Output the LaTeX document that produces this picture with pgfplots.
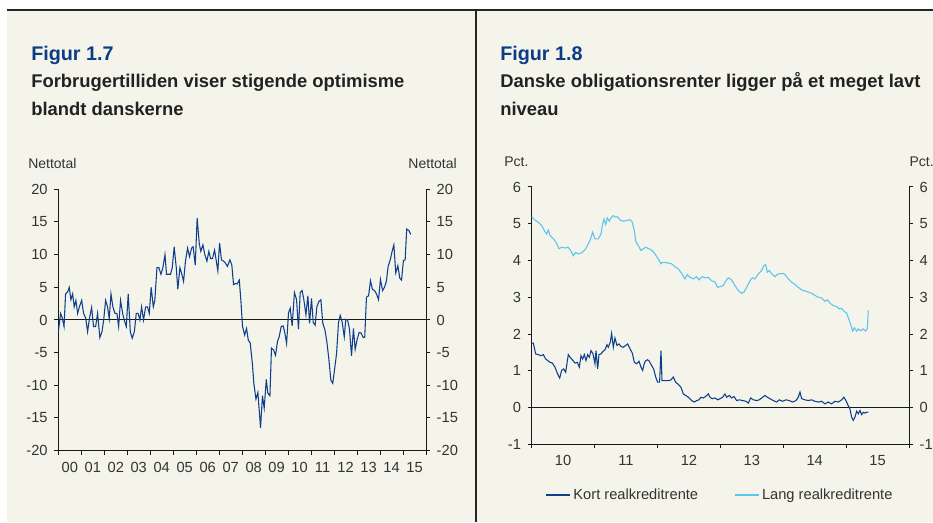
\documentclass[border=0pt]{standalone}
\usepackage{fontspec}
\setmainfont{Liberation Sans}
\usepackage{pgfplots}
\pgfplotsset{compat=1.18}
\definecolor{bg}{HTML}{F4F4EA}
\definecolor{dblue}{HTML}{0F3F8C}
\definecolor{lblue}{HTML}{5CC4EE}
\definecolor{tblue}{HTML}{0B3C85}
\definecolor{txt}{HTML}{333333}
\definecolor{ttl}{HTML}{222222}
\pgfplotsset{mystyle/.style={scale only axis,
  axis line style={black!90, line width=0.75pt},
  tick style={black!90, line width=0.75pt},
  tick align=outside, major tick length=3pt, minor tick length=3pt,
  major x tick style={draw=none},
  ticklabel style={font=\fontsize{11}{13}\selectfont, text=txt},
  xticklabel style={yshift=-2pt},
  /pgf/number format/assume math mode=true}}
\begin{document}
\begin{tikzpicture}
\useasboundingbox (0,0) rectangle (699.75pt,-391.5pt);
\fill[white] (0,0) rectangle (699.75pt,-391.5pt);
\fill[bg] (5.25pt,-7.5pt) rectangle (699.75pt,-391.5pt);
\draw[line width=0.9pt, black!85] (5.25pt,-7.5pt) -- (699.75pt,-7.5pt);
\draw[line width=0.9pt, black!85] (357pt,-7.5pt) -- (357pt,-391.5pt);
% titles
\node[anchor=base west, inner sep=0, font=\fontsize{14.8}{17}\selectfont\bfseries, text=tblue] at (23.25pt,-45.4pt) {Figur 1.7};
\node[anchor=base west, inner sep=0, font=\fontsize{13.8}{17}\selectfont\bfseries, text=ttl] at (23.25pt,-65.6pt) {Forbrugertilliden viser stigende optimisme};
\node[anchor=base west, inner sep=0, font=\fontsize{13.8}{17}\selectfont\bfseries, text=ttl] at (23.25pt,-86.25pt) {blandt danskerne};
\node[anchor=base west, inner sep=0, font=\fontsize{14.8}{17}\selectfont\bfseries, text=tblue] at (375pt,-45.4pt) {Figur 1.8};
\node[anchor=base west, inner sep=0, font=\fontsize{13.8}{17}\selectfont\bfseries, text=ttl] at (375pt,-65.6pt) {Danske obligationsrenter ligger på et meget lavt};
\node[anchor=base west, inner sep=0, font=\fontsize{13.8}{17}\selectfont\bfseries, text=ttl] at (375pt,-86.25pt) {niveau};
% units
\node[anchor=base west, inner sep=0, font=\fontsize{10.5}{12}\selectfont, text=txt] at (21pt,-126pt) {Nettotal};
\node[anchor=base east, inner sep=0, font=\fontsize{10.5}{12}\selectfont, text=txt] at (342.75pt,-126pt) {Nettotal};
\node[anchor=base west, inner sep=0, font=\fontsize{10.5}{12}\selectfont, text=txt] at (378pt,-124.5pt) {Pct.};
\node[anchor=base west, inner sep=0, font=\fontsize{10.5}{12}\selectfont, text=txt] at (682pt,-124.5pt) {Pct.};

% ---------- left panel ----------
\begin{axis}[mystyle, at={(43.725pt,-338.0pt)}, anchor=south west,
  width=275.8pt, height=196.05pt,
  xmin=0, xmax=192, ymin=-20, ymax=20,
  axis x line*=bottom, axis y line*=left,
  yticklabel style={xshift=-1.5pt},
  ytick={-20,-15,...,20},
  xtick={6,18,...,186},
  xticklabels={00,01,02,03,04,05,06,07,08,09,10,11,12,13,14,15},
  minor xtick={0,12,...,192}]
\addplot[black!90, line width=0.75pt, forget plot] coordinates {(0,0) (192,0)};
\addplot[dblue, line width=0.8pt] coordinates {
(0,-1.9)(1.2,1.0)(2.1,0.3)(3.0,-1.0)(3.8,4.0)(4.9,4.3)(5.7,5.0)(6.6,3.1)(7.5,4.0)(8.3,2.0)(9.2,3.0)(10.1,1.0)(11.0,2.0)(12.2,3.0)(13.2,1.0)(14.3,0.3)(15.3,-1.8)(16.3,0.3)(17.4,1.9)(18.4,-1.0)(19.5,-1.0)(20.5,1.0)(21.7,-2.7)(22.8,-1.8)(23.7,0)(24.7,3.0)(25.7,2.0)(26.6,0.2)(27.5,4.0)(28.5,2.0)(29.6,1.0)(30.6,1.0)(31.5,-1.0)(32.5,3.0)(33.6,1.0)(34.4,0)(35.5,-1.0)(36.5,4.0)(37.6,-1.8)(38.6,-2.8)(39.7,-1.8)(40.7,1.0)(41.7,1.0)(42.6,0)(43.5,2.0)(44.5,0)(45.6,2.0)(46.6,2.0)(47.5,1.0)(48.5,5.0)(49.6,2.0)(50.4,3.0)(51.5,8.0)(52.5,8.0)(53.6,7.0)(54.6,8.0)(55.7,10.0)(56.5,7.0)(57.6,7.0)(58.6,7.0)(59.5,8.0)(60.5,11.2)(61.6,8.0)(62.4,4.7)(63.5,8.0)(64.5,7.0)(65.4,5.9)(66.4,9.0)(67.5,11.0)(68.5,9.7)(69.6,11.0)(70.4,11.2)(71.5,8.4)(72.5,15.6)(73.6,11.7)(74.4,10.5)(75.5,11.5)(76.5,10.0)(77.6,9.0)(78.6,10.5)(79.5,9.4)(80.5,9.4)(81.6,10.7)(83.3,7.5)(84.2,11.8)(85.2,9.2)(86.3,9.0)(87.3,8.7)(88.3,8.2)
(89.6,9.2)(90.6,8.4)(91.5,5.4)(92.6,5.6)(93.4,5.5)(94.5,6.1)(95.3,3.1)(96.2,-1.0)(97.3,-2.3)(98.3,-1.3)(99.2,-3.1)(100.2,-3.5)(101.3,-6.6)(102.1,-9.7)(103.2,-12.1)(104.2,-11.1)(105.6,-16.5)(106.6,-11.6)(107.5,-13.5)(108.6,-9.1)(109.4,-11.2)(110.5,-11.6)(111.3,-4.3)(112.4,-4.6)(113.4,-5.4)(114.5,-3.2)(115.3,-2.6)(116.4,-1.0)(117.4,-0.9)(118.3,-2.0)(119.2,-3.6)(120.2,1.1)(121.1,1.8)(122.1,-0.9)(123.3,4.2)(124.4,3.1)(125.4,-1.4)(126.3,4.2)(127.3,4.5)(128.2,3.1)(129.3,0.8)(130.3,3.7)(131.2,-0.5)(132.2,3.3)(133.1,-0.4)(134.1,-0.8)(135.0,2.0)(136.0,2.8)(137.1,3.1)(138.1,-0.5)(139.2,-1.5)(140.2,-3.3)(141.3,-6.1)(142.3,-9.2)(143.3,-9.7)(144.2,-7.7)(145.3,-5.1)(146.3,-0.4)(147.2,0.7)(148.2,-0.3)(149.3,-2.6)(150.1,0.1)(151.0,0)(152.0,-1.3)(153.1,-5.5)(154.1,-1.3)(155.0,-4.5)(156.0,-3.0)(157.1,-1.9)(158.1,-2.0)(159.2,-2.7)(160.0,-2.6)(160.9,3.5)(162.0,3.7)(163.0,6.0)(164.0,4.7)(165.1,4.5)(166.1,4.0)(167.2,3.1)(168.2,6.2)(169.3,4.5)(170.3,5.0)(171.3,5.9)(172.2,8.2)(173.3,9.2)(174.3,10.5)(175.2,11.5)(176.2,7.2)(177.3,8.3)(178.3,6.4)(179.2,6.1)(180.2,9.1)(181.1,9.2)(181.9,13.9)(183.0,13.7)(184.0,13.1)
};
\end{axis}
\begin{axis}[mystyle, at={(43.725pt,-338.0pt)}, anchor=south west,
  width=275.8pt, height=196.05pt,
  xmin=0, xmax=192, ymin=-20, ymax=20,
  axis x line=none, axis y line*=right,
  yticklabel style={xshift=1.5pt},
  ytick={-20,-15,...,20}, yticklabel pos=right]
\end{axis}

% ---------- right panel ----------
\begin{axis}[mystyle, at={(398.775pt,-333.225pt)}, anchor=south west,
  width=283.0pt, height=193.0pt,
  xmin=2010, xmax=2016, ymin=-1, ymax=6,
  axis x line*=bottom, axis y line*=left,
  yticklabel style={xshift=-1.5pt},
  ytick={-1,0,...,6},
  xtick={2010.5,2011.5,2012.5,2013.5,2014.5,2015.5},
  xticklabels={10,11,12,13,14,15},
  minor xtick={2010,2011,2012,2013,2014,2015,2016},
  legend columns=2,
  legend style={draw=none, fill=none, font=\fontsize{11}{13}\selectfont, text=txt,
    at={(0.5,-0.197)}, anchor=center,
    /tikz/every even column/.append style={column sep=25pt}},
  legend image code/.code={\draw[#1, line width=0.9pt] (0pt,0pt) -- (18pt,0pt);}]
\addplot[black!90, line width=0.75pt, forget plot] coordinates {(2010,0) (2016,0)};
\addplot[dblue, line width=0.8pt] coordinates {
(2010.000,1.75)(2010.026,1.75)(2010.063,1.46)(2010.105,1.44)(2010.148,1.41)(2010.185,1.44)(2010.222,1.32)(2010.254,1.28)(2010.291,1.23)(2010.328,1.21)(2010.370,1.10)(2010.408,0.93)(2010.445,0.80)(2010.476,1.01)(2010.508,1.05)(2010.540,0.96)(2010.582,1.44)(2010.609,1.37)(2010.646,1.30)(2010.688,1.21)(2010.725,1.23)(2010.757,1.10)(2010.784,1.41)(2010.810,1.32)(2010.837,1.44)(2010.863,1.28)(2010.890,1.44)(2010.916,1.37)(2010.943,1.55)(2010.975,1.46)(2011.006,1.19)(2011.022,1.55)(2011.049,1.05)(2011.070,1.44)(2011.102,1.46)(2011.134,1.53)(2011.165,1.57)(2011.197,1.71)(2011.218,1.64)(2011.250,1.78)(2011.271,2.02)(2011.298,1.64)(2011.324,1.89)(2011.356,1.69)(2011.388,1.73)(2011.420,1.66)(2011.457,1.64)(2011.494,1.69)(2011.526,1.73)(2011.563,1.60)(2011.600,1.48)(2011.632,1.23)(2011.669,1.19)(2011.706,1.26)(2011.738,1.10)(2011.764,1.01)(2011.791,1.21)(2011.817,1.28)(2011.844,1.30)(2011.870,1.26)(2011.907,1.14)(2011.939,1.05)(2011.971,0.83)(2012.003,0.69)(2012.034,0.69)(2012.056,1.55)(2012.072,0.73)(2012.109,0.73)(2012.161,0.73)(2012.214,0.75)(2012.252,0.83)(2012.289,0.69)(2012.331,0.63)(2012.374,0.55)(2012.411,0.37)(2012.448,0.33)(2012.490,0.28)(2012.543,0.19)(2012.586,0.15)(2012.623,0.19)(2012.660,0.21)(2012.692,0.28)(2012.729,0.26)(2012.766,0.30)(2012.808,0.37)(2012.835,0.28)(2012.872,0.24)(2012.914,0.26)(2012.957,0.21)
(2012.994,0.24)(2013.036,0.28)(2013.073,0.37)(2013.100,0.28)(2013.142,0.33)(2013.179,0.26)(2013.217,0.30)(2013.259,0.19)(2013.301,0.21)(2013.354,0.19)(2013.407,0.17)(2013.444,0.12)(2013.482,0.26)(2013.524,0.21)(2013.577,0.19)(2013.619,0.21)(2013.672,0.28)(2013.709,0.33)(2013.747,0.28)(2013.789,0.24)(2013.842,0.19)(2013.895,0.15)(2013.937,0.21)(2013.990,0.17)(2014.043,0.21)(2014.096,0.19)(2014.149,0.15)(2014.202,0.19)(2014.239,0.28)(2014.266,0.42)(2014.292,0.24)(2014.345,0.21)(2014.398,0.19)(2014.451,0.21)(2014.504,0.17)(2014.557,0.15)(2014.610,0.17)(2014.663,0.10)(2014.716,0.15)(2014.769,0.10)(2014.822,0.17)(2014.875,0.15)(2014.928,0.21)(2014.965,0.28)(2014.997,0.19)(2015.034,0.05)(2015.061,-0.04)(2015.087,-0.26)(2015.114,-0.35)(2015.140,-0.26)(2015.167,-0.10)(2015.193,-0.17)(2015.220,-0.08)(2015.246,-0.19)(2015.273,-0.13)(2015.299,-0.15)(2015.326,-0.13)(2015.352,-0.12)
};
\addlegendentry{Kort realkreditrente}
\addplot[lblue, line width=0.8pt] coordinates {
(2010.000,5.19)(2010.052,5.10)(2010.105,5.04)(2010.158,4.95)(2010.196,4.83)(2010.238,4.72)(2010.264,4.83)(2010.291,4.68)(2010.344,4.59)(2010.397,4.47)(2010.434,4.32)(2010.476,4.36)(2010.529,4.34)(2010.582,4.36)(2010.619,4.27)(2010.662,4.13)(2010.699,4.22)(2010.741,4.18)(2010.794,4.21)(2010.847,4.29)(2010.900,4.45)(2010.937,4.59)(2010.969,4.77)(2011.006,4.59)(2011.059,4.59)(2011.102,4.72)(2011.128,5.00)(2011.149,5.13)(2011.176,4.98)(2011.202,5.16)(2011.234,5.07)(2011.260,5.16)(2011.298,5.22)(2011.335,5.18)(2011.367,5.19)(2011.404,5.10)(2011.457,5.07)(2011.510,5.09)(2011.563,5.11)(2011.600,5.04)(2011.632,4.81)(2011.658,4.50)(2011.695,4.41)(2011.738,4.27)(2011.775,4.32)(2011.812,4.36)(2011.865,4.32)(2011.918,4.27)(2011.960,4.18)(2012.013,4.04)(2012.056,3.91)(2012.077,3.95)(2012.119,3.95)(2012.172,3.93)(2012.225,3.91)(2012.278,3.83)(2012.331,3.77)(2012.384,3.65)(2012.437,3.50)(2012.474,3.62)(2012.516,3.54)(2012.570,3.50)(2012.623,3.56)(2012.660,3.47)(2012.713,3.56)(2012.755,3.53)(2012.808,3.54)(2012.861,3.45)(2012.914,3.41)(2012.957,3.27)
(2012.994,3.29)(2013.047,3.32)(2013.089,3.45)(2013.126,3.53)(2013.179,3.47)(2013.232,3.32)(2013.285,3.18)(2013.338,3.11)(2013.376,3.14)(2013.418,3.27)(2013.471,3.45)(2013.508,3.53)(2013.550,3.50)(2013.603,3.64)(2013.656,3.73)(2013.694,3.86)(2013.720,3.89)(2013.747,3.68)(2013.778,3.73)(2013.815,3.64)(2013.868,3.56)(2013.905,3.62)(2013.948,3.64)(2014.001,3.65)(2014.043,3.59)(2014.080,3.50)(2014.133,3.41)(2014.186,3.35)(2014.239,3.27)(2014.292,3.20)(2014.361,3.16)(2014.398,3.14)(2014.451,3.11)(2014.504,3.05)(2014.557,3.00)(2014.610,2.98)(2014.663,2.89)(2014.700,2.93)(2014.743,2.84)(2014.796,2.77)(2014.849,2.75)(2014.891,2.68)(2014.928,2.70)(2014.965,2.62)(2015.008,2.57)(2015.050,2.37)(2015.077,2.23)(2015.103,2.08)(2015.130,2.17)(2015.167,2.08)(2015.193,2.14)(2015.230,2.09)(2015.273,2.14)(2015.310,2.08)(2015.336,2.14)(2015.352,2.64)
};
\addlegendentry{Lang realkreditrente}
\end{axis}
\begin{axis}[mystyle, at={(398.775pt,-333.225pt)}, anchor=south west,
  width=283.0pt, height=193.0pt,
  xmin=2010, xmax=2016, ymin=-1, ymax=6,
  axis x line=none, axis y line*=right,
  yticklabel style={xshift=1.5pt},
  ytick={-1,0,...,6}, yticklabel pos=right]
\end{axis}
\end{tikzpicture}
\end{document}
